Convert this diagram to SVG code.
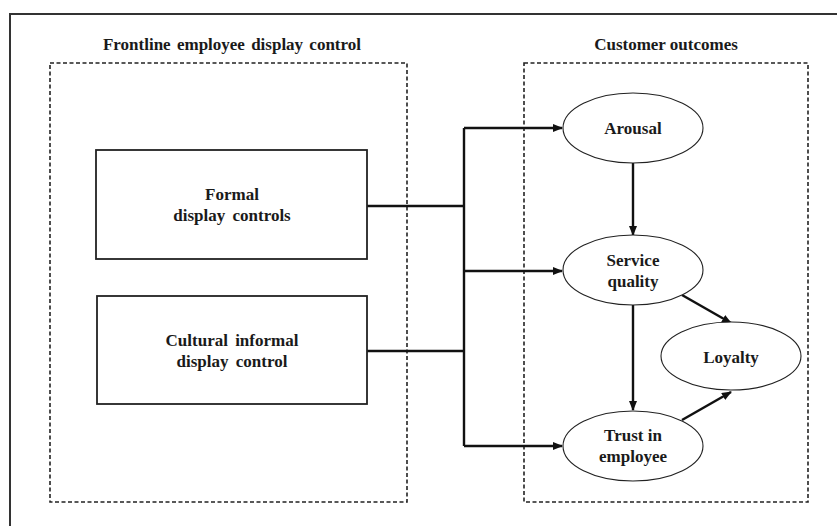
<svg xmlns="http://www.w3.org/2000/svg" width="837" height="526" viewBox="0 0 837 526">
<defs>
<marker id="ah" markerWidth="10" markerHeight="8" refX="9" refY="4" orient="auto" markerUnits="userSpaceOnUse">
<path d="M0,0 L10,4 L0,8 Z" fill="#111"/>
</marker>
</defs>
<style>
text{font-family:'Liberation Serif','DejaVu Serif',serif;font-weight:bold;font-size:17px;fill:#1a1a1a;text-anchor:middle}
.frame{fill:none;stroke:#333;stroke-width:2}
.dash{fill:none;stroke:#222;stroke-width:1.6;stroke-dasharray:4,2.5}
.box{fill:#fff;stroke:#222;stroke-width:1.8}
.ell{fill:#fff;stroke:#222;stroke-width:1.1}
.con{fill:none;stroke:#111;stroke-width:2.4}
</style>
<rect width="837" height="526" fill="#fff"/>
<path class="frame" d="M10,526 L10,14 L837,14"/>
<g id="group-left">
<rect class="dash" x="50" y="63" width="357" height="439"/>
<text x="232" y="50" word-spacing="2" font-family="Liberation Serif, serif">Frontline employee display control</text>
</g>
<g id="group-right">
<rect class="dash" x="524" y="63" width="284" height="439"/>
<text x="666" y="50" font-family="Liberation Serif, serif">Customer outcomes</text>
</g>
<g id="connectors">
<path class="con" d="M367,206 H464"/>
<path class="con" d="M367,351 H464"/>
<path class="con" d="M464,128 V446"/>
<path class="con" d="M464,128 H562" marker-end="url(#ah)"/>
<path class="con" d="M464,271 H562" marker-end="url(#ah)"/>
<path class="con" d="M464,446 H562" marker-end="url(#ah)"/>
<path class="con" d="M633,163 V235" marker-end="url(#ah)"/>
<path class="con" d="M633,305 V410" marker-end="url(#ah)"/>
<path class="con" d="M682,295 L731,323" marker-end="url(#ah)"/>
<path class="con" d="M682,420 L731,392" marker-end="url(#ah)"/>
</g>
<g id="formal">
<rect class="box" x="96" y="150" width="271" height="109"/>
<text x="232" y="200">Formal</text>
<text x="232" y="221" word-spacing="3">display controls</text>
</g>
<g id="cultural">
<rect class="box" x="97" y="296" width="270" height="108"/>
<text x="232" y="346" word-spacing="3">Cultural informal</text>
<text x="232" y="367" word-spacing="3">display control</text>
</g>
<g id="arousal">
<ellipse class="ell" cx="633" cy="128" rx="70" ry="35"/>
<text x="633" y="134">Arousal</text>
</g>
<g id="service">
<ellipse class="ell" cx="633" cy="270" rx="70" ry="35"/>
<text x="633" y="266">Service</text>
<text x="633" y="287">quality</text>
</g>
<g id="loyalty">
<ellipse class="ell" cx="731" cy="356" rx="70" ry="34"/>
<text x="731" y="363">Loyalty</text>
</g>
<g id="trust">
<ellipse class="ell" cx="633" cy="446" rx="70" ry="35"/>
<text x="633" y="441">Trust in</text>
<text x="633" y="462">employee</text>
</g>
</svg>
